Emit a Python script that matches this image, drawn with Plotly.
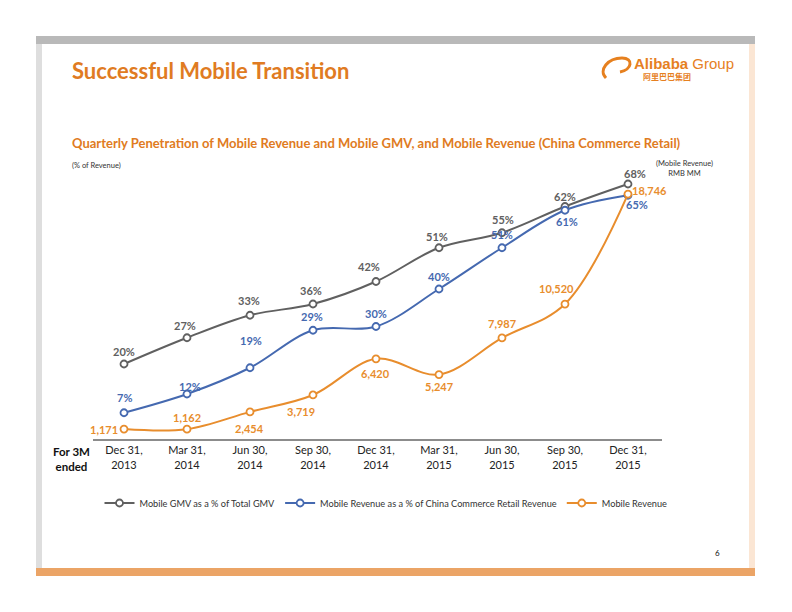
import plotly.graph_objects as go

# ---------------- data ----------------
quarters = ["Dec 31,<br>2013", "Mar 31,<br>2014", "Jun 30,<br>2014", "Sep 30,<br>2014",
            "Dec 31,<br>2014", "Mar 31,<br>2015", "Jun 30,<br>2015", "Sep 30,<br>2015",
            "Dec 31,<br>2015"]
gmv_pct = [20, 27, 33, 36, 42, 51, 55, 62, 68]
rev_pct = [7, 12, 19, 29, 30, 40, 51, 61, 65]
mobile_rev = [1171, 1162, 2454, 3719, 6420, 5247, 7987, 10520, 18746]

series_names = ["Mobile GMV as a % of Total GMV",
                "Mobile Revenue as a % of China Commerce Retail Revenue",
                "Mobile Revenue"]

# ---------------- style ----------------
OFF = 8                      # browser body margin
W, H = 792 - 2 * OFF, 612 - 2 * OFF
GRAY = "#606060"
BLUE = "#4569b0"
ORANGE = "#e88d2d"
TITLE_OR = "#e07b22"
FONT = "Lato"

# label offsets in px (dx, dy: positive dy = up)
gray_off = [(0, 13), (-2, 12), (-1, 15), (-2, 14), (-7, 15), (-2, 11), (1, 13), (0, 10), (7, 11)]
blue_off = [(0, 15), (3, 8), (1, 27), (-1, 14), (0, 13), (0, 13), (0, 13), (2, -11), (9, -9)]
orng_off = [(-20, 0), (0, 12), (0, -17), (-12, -17), (0, -15), (0, -12), (0, 14), (-8, 16), (22, 4)]


def px(x):
    return (x - OFF) / W


def py(y):
    return 1 - (y - OFF) / H


xs = list(range(len(quarters)))

fig = go.Figure()
for vals, col, name, ax in [(gmv_pct, GRAY, series_names[0], "y"),
                            (rev_pct, BLUE, series_names[1], "y"),
                            (mobile_rev, ORANGE, series_names[2], "y2")]:
    fig.add_trace(go.Scatter(x=xs, y=vals, name=name, mode="lines+markers",
                             line=dict(color=col, width=2, shape="spline", smoothing=1),
                             marker=dict(color="white", symbol="circle", size=7,
                                         line=dict(color=col, width=1.8)),
                             yaxis=ax))

annots = []
for i, v in enumerate(gmv_pct):
    dx, dy = gray_off[i]
    annots.append(dict(x=i, y=v, xref="x", yref="y", text=f"<b>{v}%</b>", showarrow=False,
                       xshift=dx, yshift=dy, font=dict(family=FONT, size=11, color=GRAY)))
for i, v in enumerate(rev_pct):
    dx, dy = blue_off[i]
    annots.append(dict(x=i, y=v, xref="x", yref="y", text=f"<b>{v}%</b>", showarrow=False,
                       xshift=dx, yshift=dy, font=dict(family=FONT, size=11, color=BLUE)))
for i, v in enumerate(mobile_rev):
    dx, dy = orng_off[i]
    annots.append(dict(x=i, y=v, xref="x", yref="y2", text=f"<b>{v:,}</b>",
                       showarrow=False, xshift=dx, yshift=dy,
                       font=dict(family=FONT, size=11, color=ORANGE)))

# static texts
annots += [
    dict(x=px(70), y=py(70), xref="paper", yref="paper", xanchor="left", yanchor="middle",
         text="<b>Successful Mobile Transition</b>", showarrow=False,
         font=dict(family=FONT, size=22, color=TITLE_OR)),
    dict(x=px(70), y=py(143), xref="paper", yref="paper", xanchor="left", yanchor="middle",
         text="<b>Quarterly Penetration of Mobile Revenue and Mobile GMV, and Mobile Revenue (China Commerce Retail)</b>",
         showarrow=False, font=dict(family=FONT, size=13, color=TITLE_OR)),
    dict(x=px(70), y=py(165), xref="paper", yref="paper", xanchor="left", yanchor="middle",
         text="(% of Revenue)", showarrow=False, font=dict(family=FONT, size=7.5, color="#333333")),
    dict(x=px(684), y=py(168), xref="paper", yref="paper", xanchor="center", yanchor="middle",
         text="(Mobile Revenue)<br>RMB MM", showarrow=False,
         font=dict(family=FONT, size=7.5, color="#333333")),
    dict(x=px(71), y=py(459), xref="paper", yref="paper", xanchor="center", yanchor="middle",
         text="<b>For 3M</b><br><b>ended</b>", showarrow=False,
         font=dict(family=FONT, size=11.5, color="#111111")),
    dict(x=px(717), y=py(553), xref="paper", yref="paper", xanchor="center", yanchor="middle",
         text="6", showarrow=False, font=dict(family=FONT, size=8, color="#111111")),
    dict(x=px(632), y=py(64), xref="paper", yref="paper", xanchor="left", yanchor="middle",
         text="<b>Alibaba</b> Group", showarrow=False,
         font=dict(family="Liberation Sans", size=15, color="#e6801f")),
    dict(x=px(641), y=py(77), xref="paper", yref="paper", xanchor="left", yanchor="middle",
         text="<b>阿里巴巴集团</b>", showarrow=False,
         font=dict(family="Noto Sans CJK SC", size=8, color="#e6801f")),
]

shapes = [
    # top gray bar
    dict(type="rect", xref="paper", yref="paper", x0=px(36), x1=px(755), y0=py(44), y1=py(36),
         fillcolor="#b9b9b9", line=dict(width=0), layer="below"),
    # left border
    dict(type="rect", xref="paper", yref="paper", x0=px(36), x1=px(42), y0=py(568), y1=py(44),
         fillcolor="#dedede", line=dict(width=0), layer="below"),
    # right border
    dict(type="rect", xref="paper", yref="paper", x0=px(749), x1=px(755), y0=py(568), y1=py(44),
         fillcolor="#fbe6d4", line=dict(width=0), layer="below"),
    # bottom orange bar
    dict(type="rect", xref="paper", yref="paper", x0=px(36), x1=px(755), y0=py(576), y1=py(568),
         fillcolor="#eba466", line=dict(width=0), layer="below"),
    # logo swoosh
    dict(type="path", xref="paper", yref="paper",
         path=f"M {px(606)},{py(78)} C {px(598)},{py(70)} {px(608)},{py(58)} {px(622)},{py(58)} "
              f"C {px(634)},{py(58)} {px(632)},{py(70)} {px(620)},{py(72)}",
         line=dict(color="#e6801f", width=3)),
]

x_lo = -0.492
x_hi = 8.54
y_bot = 439
y_top = 150
fig.update_layout(
    width=W, height=H, margin=dict(l=0, r=0, t=0, b=0),
    paper_bgcolor="white", plot_bgcolor="rgba(0,0,0,0)",
    showlegend=True,
    legend=dict(orientation="h", x=px(386), y=py(503), xanchor="center", yanchor="middle",
                font=dict(family=FONT, size=9.2, color="#333333"),
                itemwidth=30, bgcolor="rgba(0,0,0,0)"),
    xaxis=dict(domain=[px(93), px(662)], range=[x_lo, x_hi], tickmode="array",
               tickvals=xs, ticktext=quarters, showgrid=False, zeroline=False,
               showline=True, linecolor="#8c8c8c", linewidth=2, ticks="",
               tickfont=dict(family=FONT, size=11, color="#222222")),
    yaxis=dict(domain=[py(y_bot), py(y_top)], range=[0, (y_bot - y_top) / 3.75],
               visible=False, showgrid=False, zeroline=False),
    yaxis2=dict(overlaying="y", range=[426, 426 + (y_bot - y_top) / 0.01337],
                visible=False, showgrid=False, zeroline=False),
    annotations=annots,
    shapes=shapes,
)

fig.write_html("out.html")
